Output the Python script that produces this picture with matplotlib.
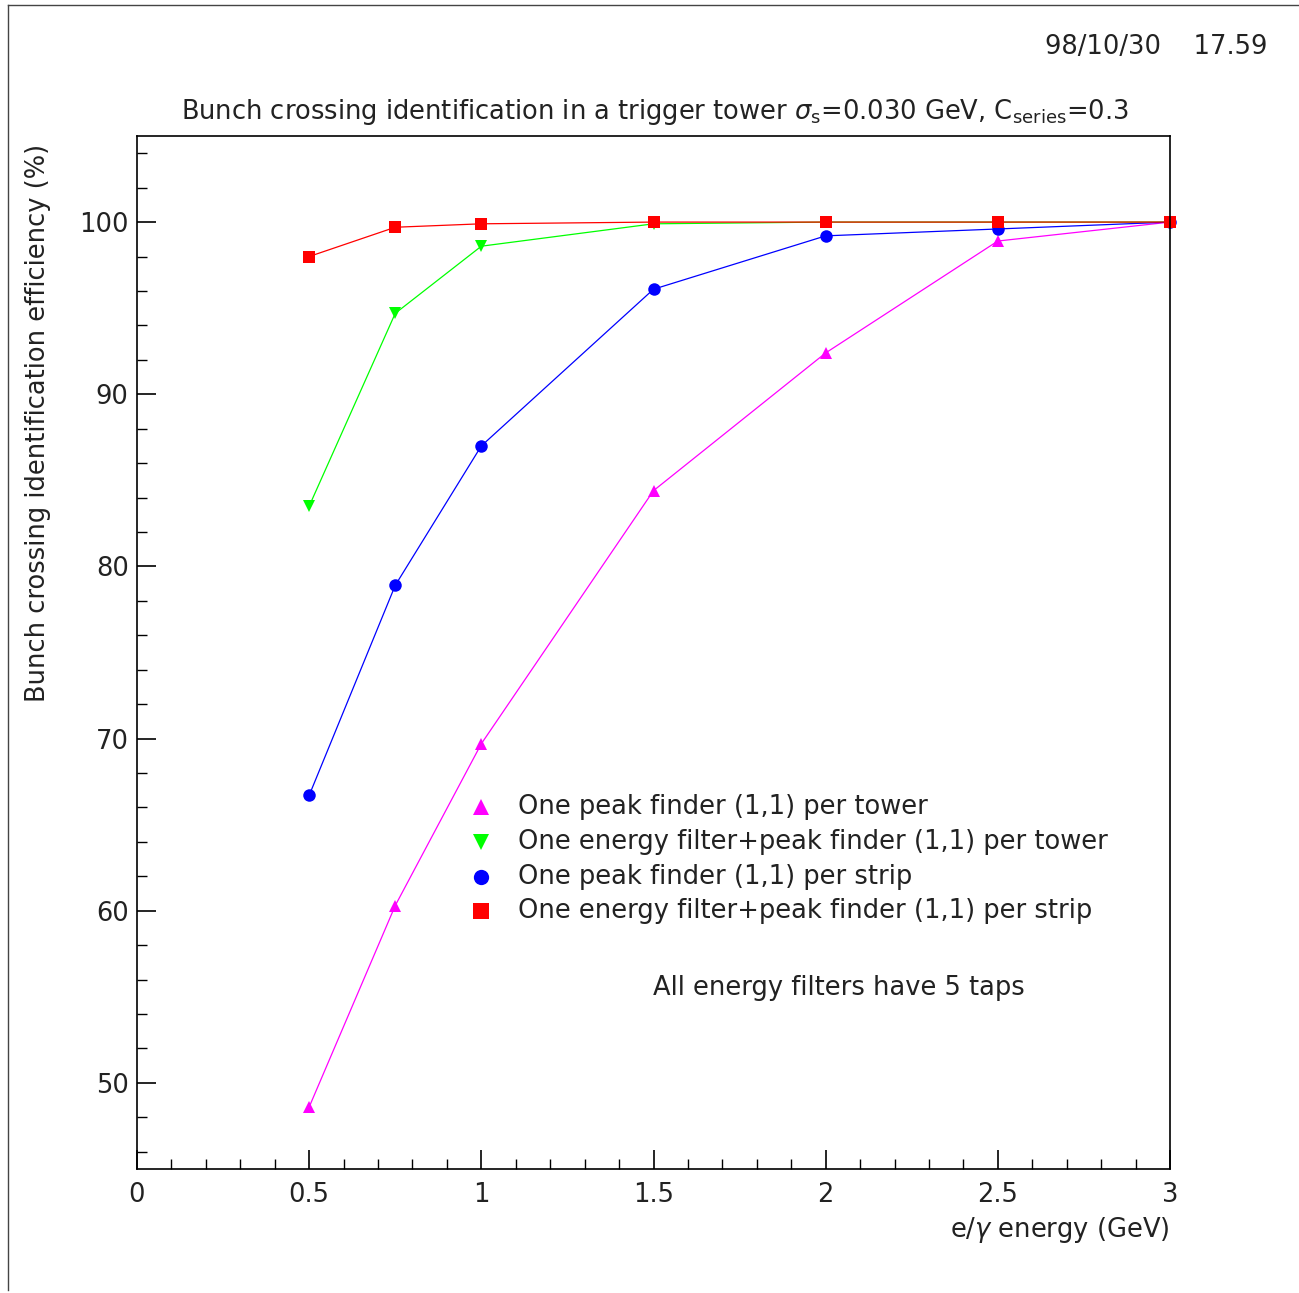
import matplotlib
matplotlib.use("Agg")
import matplotlib.pyplot as plt
from matplotlib.lines import Line2D

energy = [0.5, 0.75, 1.0, 1.5, 2.0, 2.5, 3.0]
peak_tower = [48.6, 60.3, 69.7, 84.4, 92.4, 98.9, 100.0]
filt_tower = [83.5, 94.7, 98.6, 99.9, 100.0, 100.0, 100.0]
peak_strip = [66.7, 78.9, 87.0, 96.1, 99.2, 99.6, 100.0]
filt_strip = [98.0, 99.7, 99.9, 100.0, 100.0, 100.0, 100.0]

labels = ["One peak finder (1,1) per tower",
          "One energy filter+peak finder (1,1) per tower",
          "One peak finder (1,1) per strip",
          "One energy filter+peak finder (1,1) per strip"]

W, H = 1299, 1293
fig = plt.figure(figsize=(W / 100, H / 100), dpi=100)
plt.rcParams['font.family'] = ['DejaVu Sans']
FS = 18.5
TC = '#222222'

def fx(px):
    return px / W

def fy(py):
    return 1 - py / H

ax = fig.add_axes([fx(137), fy(1169), fx(1170) - fx(137), fy(136) - fy(1169)])

series = [
    (peak_tower, '#ff00ff', '^', 9),
    (filt_tower, '#00ff00', 'v', 9),
    (peak_strip, '#0000ff', 'o', 9),
    (filt_strip, '#ff0000', 's', 9),
]
for vals, col, mk, ms in series:
    ax.plot(energy, vals, color=col, lw=0.9, marker=mk, ms=ms,
            markeredgewidth=0, clip_on=False)

ax.set_xlim(0, 3)
ax.set_ylim(45, 105)
ax.set_xticks([0, 0.5, 1, 1.5, 2, 2.5, 3])
ax.set_xticklabels(['0', '0.5', '1', '1.5', '2', '2.5', '3'])
ax.set_xticks([i / 10 for i in range(31)], minor=True)
ax.set_yticks([50, 60, 70, 80, 90, 100])
ax.set_yticks(list(range(46, 105, 2)), minor=True)
ax.tick_params(axis='both', which='major', direction='in', length=14, width=1.2,
               labelsize=FS, colors='black', labelcolor=TC)
ax.tick_params(axis='both', which='minor', direction='in', length=7, width=1.0)
ax.tick_params(axis='x', which='both', pad=9)
ax.tick_params(axis='y', which='both', pad=6)
for s in ax.spines.values():
    s.set_linewidth(1.2)

# legend (manual, axes-fraction placement)
leg_x_mark = (481 - 137) / (1170 - 137)
leg_x_text = (518 - 137) / (1170 - 137)
rows = [807, 842, 877, 911]
for (vals, col, mk, ms), lab, ry in zip(series, labels, rows):
    yy = (1169 - ry) / (1169 - 136)
    ax.plot([leg_x_mark], [yy], transform=ax.transAxes, marker=mk, color=col,
            ms=11, markeredgewidth=0, linestyle='none', clip_on=False)
    ax.text(leg_x_text, yy, lab, transform=ax.transAxes, fontsize=FS,
            ha='left', va='center', color=TC)

ax.text((653 - 137) / (1170 - 137), (1169 - 988) / (1169 - 136),
        "All energy filters have 5 taps", transform=ax.transAxes,
        fontsize=FS, ha='left', va='center', color=TC)

fig.text(fx(655), fy(112),
         r"Bunch crossing identification in a trigger tower $\sigma_{\rm s}$=0.030 GeV, C$_{\rm series}$=0.3",
         fontsize=FS, ha='center', va='center', color=TC)
fig.text(fx(1267), fy(47), "98/10/30    17.59", fontsize=FS, ha='right',
         va='center', color=TC)
fig.text(fx(38), fy(423), "Bunch crossing identification efficiency (%)",
         rotation=90, fontsize=FS, ha='center', va='center', color=TC)
fig.text(fx(1170), fy(1230), r"e/$\gamma$ energy (GeV)", fontsize=FS,
         ha='right', va='center', color=TC)

# page frame
fig.add_artist(Line2D([fx(8), fx(8)], [fy(5), fy(1290)], transform=fig.transFigure,
                      color='#444444', lw=1.0))
fig.add_artist(Line2D([fx(8), fx(1299)], [fy(5), fy(5)], transform=fig.transFigure,
                      color='#444444', lw=1.0))

fig.savefig("out.png", dpi=100)
